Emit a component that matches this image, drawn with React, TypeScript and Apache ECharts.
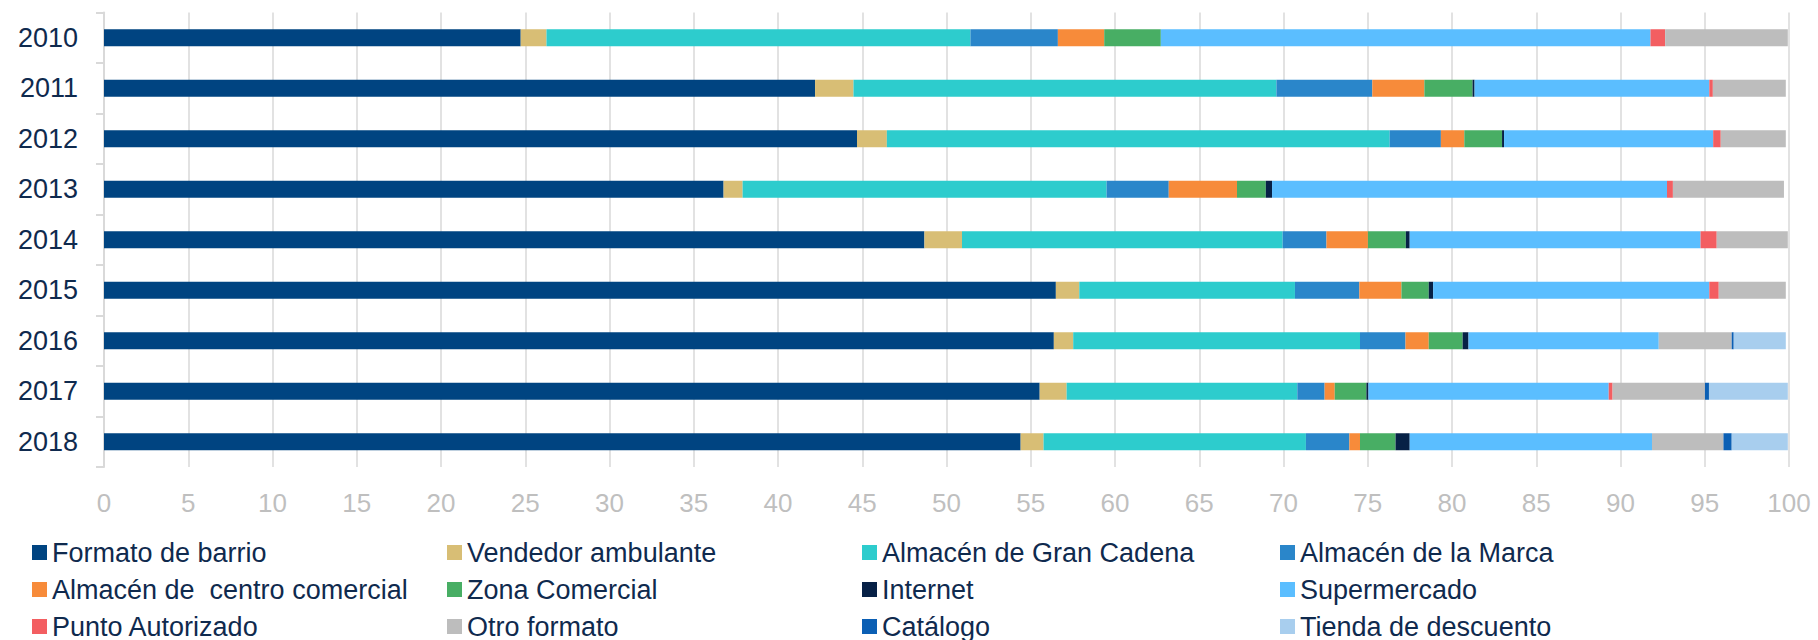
import React, { useEffect, useRef } from "react";
import * as echarts from "echarts";

const years = ["2010", "2011", "2012", "2013", "2014", "2015", "2016", "2017", "2018"];
const xTicks = { min: 0, max: 100, interval: 5 };

const formatoBarrio = [24.73, 42.2, 44.69, 36.77, 48.69, 56.49, 56.37, 55.53, 54.4];
const vendedorAmbulante = [1.53, 2.28, 1.77, 1.13, 2.23, 1.39, 1.15, 1.6, 1.36];
const granCadena = [25.16, 25.1, 29.84, 21.6, 19.03, 12.8, 17.02, 13.69, 15.57];
const almacenMarca = [5.19, 5.69, 3.04, 3.69, 2.6, 3.82, 2.7, 1.62, 2.58];
const centroComercial = [2.75, 3.09, 1.39, 4.05, 2.46, 2.5, 1.38, 0.6, 0.63];
const zonaComercial = [3.36, 2.86, 2.24, 1.71, 2.25, 1.62, 2.01, 1.88, 2.11];
const internet = [0, 0.12, 0.12, 0.37, 0.23, 0.26, 0.35, 0.12, 0.84];
const supermercado = [29.06, 13.93, 12.41, 23.44, 17.26, 16.39, 11.29, 14.26, 14.38];
const puntoAutorizado = [0.87, 0.21, 0.45, 0.35, 0.96, 0.56, 0, 0.23, 0];
const otroFormato = [7.28, 4.33, 3.86, 6.59, 4.22, 3.98, 4.33, 5.48, 4.24];
const catalogo = [0, 0, 0, 0, 0, 0, 0.12, 0.24, 0.49];
const tiendaDescuento = [0, 0, 0, 0, 0, 0, 3.09, 4.68, 3.33];

const seriesNames = [
  "Formato de barrio",
  "Vendedor ambulante",
  "Almacén de Gran Cadena",
  "Almacén de la Marca",
  "Almacén de  centro comercial",
  "Zona Comercial",
  "Internet",
  "Supermercado",
  "Punto Autorizado",
  "Otro formato",
  "Catálogo",
  "Tienda de descuento",
];
const seriesData = [
  formatoBarrio,
  vendedorAmbulante,
  granCadena,
  almacenMarca,
  centroComercial,
  zonaComercial,
  internet,
  supermercado,
  puntoAutorizado,
  otroFormato,
  catalogo,
  tiendaDescuento,
];
const seriesColors = [
  "#004481",
  "#D8BE75",
  "#2DCCCD",
  "#2A86CA",
  "#F78B3A",
  "#48AE64",
  "#072146",
  "#5BBEFF",
  "#F35E61",
  "#BDBDBD",
  "#0B5FB4",
  "#A8CEEE",
];

const legendColumns = [
  [0, 4, 8],
  [1, 5, 9],
  [2, 6, 10],
  [3, 7, 11],
];
const legendLefts = [32, 447, 862, 1280];

const NAVY = "#0F2A4E";
const FONT = "'Liberation Sans', Arial, sans-serif";

export default function App() {
  const ref = useRef<HTMLDivElement>(null);
  useEffect(() => {
    if (!ref.current) return;
    const chart = echarts.init(ref.current, undefined, { renderer: "svg" });
    chart.setOption({
      animation: false,
      backgroundColor: "#ffffff",
      textStyle: { fontFamily: FONT },
      grid: { left: 104, right: 29, top: 12.5, bottom: 173, containLabel: false },
      xAxis: {
        type: "value",
        min: xTicks.min,
        max: xTicks.max,
        interval: xTicks.interval,
        axisLine: { show: false },
        axisTick: { show: false },
        splitLine: { show: true, lineStyle: { color: "#D9D9D9", width: 1.5 } },
        axisLabel: { color: "#BFBFBF", fontSize: 26, margin: 23, fontFamily: FONT },
      },
      yAxis: {
        type: "category",
        inverse: true,
        data: years,
        axisLine: { show: true, lineStyle: { color: "#D9D9D9", width: 2 } },
        axisTick: { show: true, length: 8, lineStyle: { color: "#D9D9D9", width: 2 } },
        axisLabel: { color: NAVY, fontSize: 27, margin: 26, fontFamily: FONT },
      },
      legend: legendColumns.map((col, i) => ({
        orient: "vertical",
        left: legendLefts[i],
        top: 539,
        width: 400,
        height: 140,
        padding: 0,
        itemWidth: 15,
        itemHeight: 15,
        itemGap: 10,
        icon: "rect",
        selectedMode: false,
        textStyle: { color: NAVY, fontSize: 27, fontFamily: FONT },
        data: col.map((k) => seriesNames[k]),
      })),
      series: seriesNames.map((name, i) => ({
        name,
        type: "bar",
        stack: "total",
        barWidth: 17,
        data: seriesData[i],
        itemStyle: { color: seriesColors[i] },
      })),
    });
    return () => chart.dispose();
  }, []);
  return (
    <div
      ref={ref}
      style={{ position: "fixed", left: 0, top: 0, width: "1818px", height: "640px", background: "#fff" }}
    />
  );
}
